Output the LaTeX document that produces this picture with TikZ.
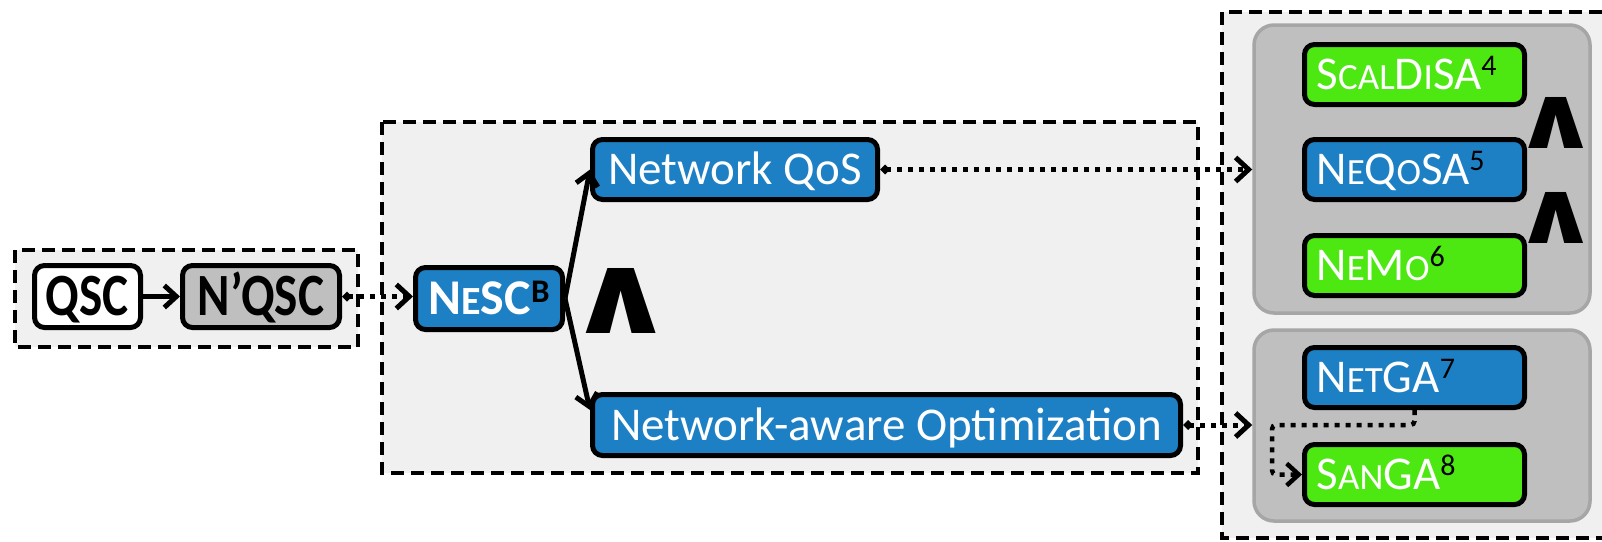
\documentclass[tikz,border=0pt]{standalone}
\usepackage{graphicx}
\usepackage{fontspec}
\setmainfont{Carlito}
\newfontface\andfont{DejaVu Sans Bold}
\usetikzlibrary{arrows.meta,calc}
\definecolor{boxblue}{RGB}{30,128,196}
\definecolor{boxgreen}{RGB}{77,232,18}
\definecolor{grpgray}{RGB}{191,191,191}
\definecolor{grpedge}{RGB}{166,166,166}
\definecolor{bggray}{RGB}{240,240,240}
\newcommand\smc[1]{{\fontsize{37}{40}\selectfont #1}}
\newcommand\smcb[1]{{\fontsize{40}{44}\selectfont #1}}
\newcommand\supnum[1]{\raisebox{14pt}{\fontsize{30}{32}\selectfont\color{black}#1}}
\newcommand\supbold[1]{\raisebox{12pt}{\fontsize{33}{36}\selectfont\bfseries\color{black}#1}}
\newcommand\andsym[1]{\scalebox{1.22}[1]{\resizebox{!}{#1}{\andfont ∧}}}
\begin{document}
\begin{tikzpicture}[x=1pt,y=-1pt,
  dashbox/.style={draw=black, line width=4.5pt, dash pattern=on 13pt off 7pt},
  box/.style={draw=black, line width=5pt, rounded corners=10pt, inner sep=0pt,
    text height=30pt, text depth=0pt, font=\fontsize{47}{50}\selectfont},
  bluebox/.style={box, fill=boxblue, text=white},
  greenbox/.style={box, fill=boxgreen, text=white},
  leftbox/.style={minimum height=60pt, text width=196pt, inner xsep=12pt, align=left},
  boldbox/.style={box, text height=38pt, font=\fontsize{60}{64}\selectfont\bfseries},
  group/.style={draw=grpedge, fill=grpgray, line width=3.5pt, rounded corners=20pt},
  andnode/.style={inner sep=0pt},
  solidarr/.style={line width=5pt, -{Straight Barb[length=12pt,width=22pt]}},
  dotarr/.style={line width=5pt, dash pattern=on 5pt off 6pt,
    {Diamond[length=10pt,width=10pt]}-{Straight Barb[length=13pt,width=24pt]}},
  dotarrb/.style={line width=4.5pt, dash pattern=on 5pt off 6pt,
    -{Straight Barb[length=12pt,width=22pt]}}]
\useasboundingbox (0,0) rectangle (1602,541);

% dashed containers
\fill[bggray] (15,250) rectangle (358,347);
\draw[dashbox] (15,250) rectangle (358,347);
\fill[bggray] (382,122) rectangle (1198,473);
\draw[dashbox] (382,122) rectangle (1198,473);
\fill[bggray] (1222,12) rectangle (1602,538);
\draw[dashbox] (1602,12) -- (1222,12) -- (1222,538) -- (1602,538);

% gray groups
\node[group, minimum width=336pt, minimum height=288pt] (G1) at (1422,169) {};
\node[group, minimum width=336pt, minimum height=191pt] (G2) at (1422,425.5) {};

% left nodes
\node[boldbox, fill=white, minimum width=106pt, minimum height=62pt] (QSC) at (87.5,296.5) {\scalebox{0.82}[1]{QSC}};
\node[boldbox, fill=grpgray, minimum width=157pt, minimum height=62pt] (NQSC) at (261,296.5) {\scalebox{0.82}[1]{N’QSC}};
\node[bluebox, minimum width=147pt, minimum height=62pt, text height=32pt, font=\fontsize{50}{54}\selectfont\bfseries] (NeSC) at (489,298.5) {N\smcb{E}SC\supbold{B}};

% middle nodes
\node[bluebox, minimum width=285pt, minimum height=60pt] (QoS) at (735,169.5) {Network QoS};
\node[bluebox, minimum width=588pt, minimum height=61pt] (Opt) at (886.5,425) {Network-aware Optimization};

% right nodes
\node[greenbox, leftbox] (Scal) at (1414.5,74.5) {S\smc{CAL}D\smc{I}SA\supnum{4}};
\node[bluebox, leftbox] (NeQoSA) at (1414.5,169.5) {N\smc{E}Q\smc{O}SA\supnum{5}};
\node[greenbox, leftbox] (NeMo) at (1414.5,265.5) {N\smc{E}M\smc{O}\supnum{6}};
\node[bluebox, leftbox] (NetGA) at (1414.5,377.5) {N\smc{ET}GA\supnum{7}};
\node[greenbox, leftbox] (SanGA) at (1414.5,474.5) {S\smc{AN}GA\supnum{8}};

% AND symbols
\node[andnode] (and1) at (621.5,300.5) {\andsym{65pt}};
\node[andnode] (and2) at (1556.5,122.5) {\andsym{51pt}};
\node[andnode] (and3) at (1556.5,217.5) {\andsym{51pt}};

% connectors
\draw[solidarr] (QSC.east) -- (NQSC.west);
\draw[dotarr] (NQSC.east) -- (NQSC.east -| NeSC.west);
\draw[solidarr] (NeSC.east) -- (QoS.west);
\draw[solidarr] (NeSC.east) -- ($(Opt.west)+(0,-15)$);
\draw[dotarr] (QoS.east) -- (QoS.east -| G1.west);
\draw[dotarr] (Opt.east) -- (Opt.east -| G2.west);
\coordinate (bend) at (1272,425);
\draw[dotarrb, rounded corners=4pt] (NetGA.south) -- (NetGA.south |- bend) -- (bend) |- (SanGA.west);
\end{tikzpicture}
\end{document}
